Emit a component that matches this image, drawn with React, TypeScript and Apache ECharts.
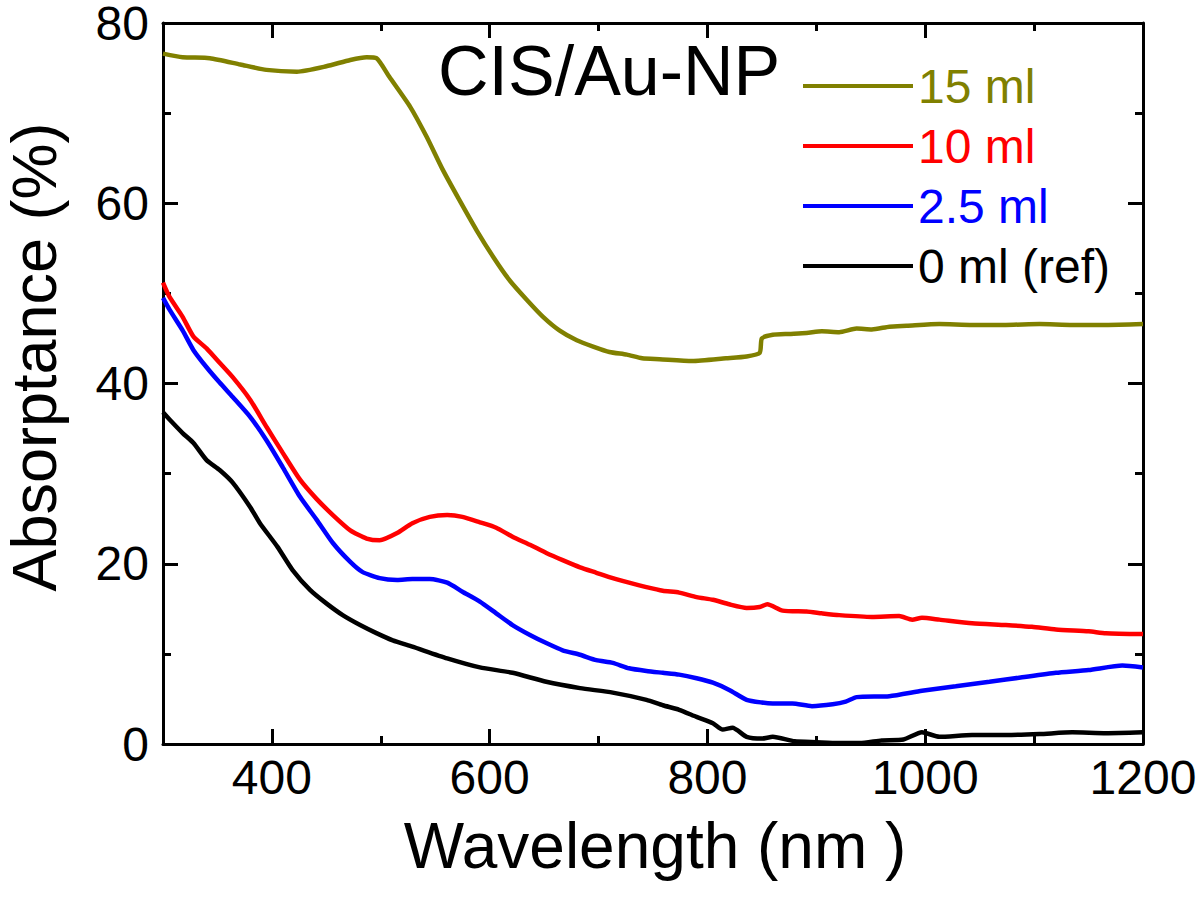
import React, { useEffect, useRef } from "react";
import * as echarts from "echarts";

// ---- data (wavelength in nm, absorptance in %) ----
const wl15 = [300, 318, 343, 371, 395, 423, 450, 472, 487, 496, 508, 527, 542, 557, 572, 588, 603, 618, 634, 649, 664, 680, 695, 710, 726, 740, 756, 786, 817, 836, 848, 850, 860, 875, 891, 905, 921, 937, 951, 967, 983, 1013, 1043, 1074, 1105, 1135, 1166, 1200];
const v15 = [76.6, 76.2, 76.1, 75.4, 74.8, 74.6, 75.2, 75.9, 76.2, 76.1, 74.0, 70.7, 67.4, 63.7, 60.4, 57.0, 54.1, 51.5, 49.3, 47.4, 45.9, 44.8, 44.1, 43.5, 43.2, 42.8, 42.7, 42.5, 42.8, 43.0, 43.4, 45.0, 45.4, 45.5, 45.6, 45.8, 45.7, 46.1, 46.0, 46.3, 46.4, 46.6, 46.5, 46.5, 46.6, 46.5, 46.5, 46.6];

const wl10 = [300, 306, 318, 328, 340, 352, 364, 380, 395, 410, 426, 441, 456, 472, 487, 499, 515, 529, 545, 561, 575, 591, 606, 621, 637, 652, 667, 683, 698, 713, 728, 744, 759, 774, 790, 805, 820, 836, 848, 855, 869, 891, 905, 921, 951, 976, 988, 997, 1013, 1043, 1074, 1098, 1120, 1150, 1166, 1200];
const v10 = [51.2, 49.6, 47.4, 45.2, 43.9, 42.3, 40.7, 38.2, 35.2, 32.3, 29.3, 27.2, 25.4, 23.7, 22.8, 22.6, 23.4, 24.5, 25.2, 25.4, 25.2, 24.6, 24.0, 23.0, 22.1, 21.2, 20.4, 19.6, 19.0, 18.4, 17.9, 17.4, 17.0, 16.8, 16.3, 16.0, 15.5, 15.1, 15.2, 15.5, 14.8, 14.7, 14.5, 14.3, 14.1, 14.2, 13.8, 14.0, 13.8, 13.4, 13.2, 13.0, 12.7, 12.5, 12.3, 12.2];

const wl25 = [300, 306, 318, 328, 340, 352, 364, 380, 395, 410, 426, 441, 456, 472, 483, 499, 515, 529, 545, 561, 575, 591, 606, 621, 637, 652, 667, 683, 698, 713, 728, 744, 759, 774, 790, 805, 820, 836, 850, 860, 878, 896, 915, 927, 937, 967, 997, 1028, 1059, 1089, 1120, 1150, 1181, 1200];
const v25 = [49.5, 48.2, 45.9, 43.7, 41.8, 40.1, 38.5, 36.3, 33.7, 30.7, 27.4, 24.9, 22.3, 20.2, 19.1, 18.4, 18.2, 18.3, 18.3, 17.9, 16.9, 15.8, 14.5, 13.2, 12.1, 11.2, 10.4, 9.9, 9.3, 9.0, 8.4, 8.1, 7.9, 7.7, 7.3, 6.8, 6.0, 4.9, 4.6, 4.5, 4.5, 4.2, 4.4, 4.7, 5.2, 5.3, 5.9, 6.4, 6.9, 7.4, 7.9, 8.2, 8.7, 8.5];

const wl0 = [300, 306, 318, 328, 340, 352, 364, 380, 389, 405, 419, 435, 450, 465, 481, 496, 511, 529, 561, 591, 621, 652, 683, 713, 744, 759, 774, 790, 805, 814, 823, 836, 850, 860, 880, 900, 920, 940, 960, 980, 997, 1013, 1043, 1074, 1105, 1135, 1166, 1200];
const v0 = [36.8, 36.0, 34.5, 33.4, 31.5, 30.4, 29.0, 26.3, 24.5, 21.9, 19.3, 17.1, 15.6, 14.3, 13.2, 12.3, 11.5, 10.8, 9.5, 8.5, 7.9, 6.9, 6.2, 5.7, 4.9, 4.3, 3.8, 3.0, 2.3, 1.6, 1.8, 0.8, 0.6, 0.8, 0.3, 0.2, 0.1, 0.1, 0.4, 0.5, 1.3, 0.8, 1.0, 1.0, 1.1, 1.3, 1.2, 1.3];

const seriesNames = ["15 ml", "10 ml", "2.5 ml", "0 ml (ref)"];
const seriesColors = ["#808000", "#ff0000", "#0000ff", "#000000"];
const xMajorTicks = [400, 600, 800, 1000, 1200];
const xMinorTicks = [500, 700, 900, 1100];

const FONT = "'Liberation Sans', Arial, Helvetica, sans-serif";

const zip = (xs: number[], ys: number[]) => xs.map((x, i) => [x, ys[i]]);

export default function App() {
  const ref = useRef<HTMLDivElement>(null);

  useEffect(() => {
    if (!ref.current) return;
    const chart = echarts.init(ref.current, undefined, { renderer: "svg" });

    const lineStyle = { color: "#000", width: 3 };
    const xBase = {
      type: "value" as const,
      min: 300,
      max: 1200,
      interval: 100,
      splitLine: { show: false },
    };
    const yBase = {
      type: "value" as const,
      min: 0,
      max: 80,
      interval: 20,
      splitLine: { show: false },
    };

    const data = [zip(wl15, v15), zip(wl10, v10), zip(wl25, v25), zip(wl0, v0)];

    chart.setOption({
      animation: false,
      backgroundColor: "#fff",
      textStyle: { fontFamily: FONT },
      grid: { left: 163, right: 57, top: 23, bottom: 166, containLabel: false, outerBoundsMode: "none" },
      title: {
        text: "CIS/Au-NP",
        left: 438,
        top: 36,
        padding: 0,
        textStyle: { fontSize: 70, fontWeight: "normal", color: "#000", fontFamily: FONT },
      },
      legend: {
        orient: "vertical",
        left: 803,
        top: 62,
        padding: 0,
        itemWidth: 110,
        itemHeight: 4,
        itemGap: 12,
        icon: "rect",
        textStyle: { fontSize: 48, fontFamily: FONT },
        data: seriesNames.map((n, i) => ({ name: n, textStyle: { color: seriesColors[i] } })),
      },
      xAxis: [
        {
          ...xBase,
          position: "bottom",
          axisLine: { show: true, lineStyle },
          axisTick: { show: true, inside: true, length: 15, lineStyle, customValues: xMajorTicks },
          axisLabel: {
            show: true,
            customValues: xMajorTicks,
            formatter: (v: number) => String(v),
            fontSize: 48,
            color: "#000",
            margin: 9,
            fontFamily: FONT,
          },
        },
        {
          ...xBase,
          position: "bottom",
          axisLine: { show: false },
          axisTick: { show: true, inside: true, length: 8, lineStyle, customValues: xMinorTicks },
          axisLabel: { show: false },
        },
        {
          ...xBase,
          position: "top",
          axisLine: { show: true, lineStyle },
          axisTick: { show: true, inside: true, length: 15, lineStyle, customValues: xMajorTicks },
          axisLabel: { show: false },
        },
        {
          ...xBase,
          position: "top",
          axisLine: { show: false },
          axisTick: { show: true, inside: true, length: 8, lineStyle, customValues: xMinorTicks },
          axisLabel: { show: false },
        },
      ],
      yAxis: [
        {
          ...yBase,
          position: "left",
          axisLine: { show: true, lineStyle },
          axisTick: { show: true, inside: true, length: 15, lineStyle },
          minorTick: { show: true, splitNumber: 2, length: 8, lineStyle },
          axisLabel: {
            show: true,
            formatter: (v: number) => String(v),
            fontSize: 48,
            lineHeight: 38,
            padding: [4, 0, 0, 0],
            color: "#000",
            margin: 14,
            fontFamily: FONT,
          },
        },
        {
          ...yBase,
          position: "right",
          axisLine: { show: true, lineStyle },
          axisTick: { show: true, inside: true, length: 15, lineStyle },
          minorTick: { show: true, splitNumber: 2, length: 8, lineStyle },
          axisLabel: { show: false },
        },
      ],
      graphic: [
        {
          type: "text",
          x: 655,
          y: 846,
          style: {
            text: "Wavelength (nm )",
            fontSize: 64,
            fontFamily: FONT,
            fill: "#000",
            textAlign: "center",
            textVerticalAlign: "middle",
          },
        },
        {
          type: "text",
          x: 34,
          y: 357,
          rotation: Math.PI / 2,
          style: {
            text: "Absorptance (%)",
            fontSize: 63,
            fontFamily: FONT,
            fill: "#000",
            textAlign: "center",
            textVerticalAlign: "middle",
          },
        },
      ],
      series: seriesNames.map((n, i) => ({
        name: n,
        type: "line",
        xAxisIndex: 0,
        yAxisIndex: 0,
        showSymbol: false,
        symbol: "none",
        smooth: 0.2,
        lineStyle: { color: seriesColors[i], width: 4.5 },
        itemStyle: { color: seriesColors[i] },
        data: data[i],
        z: 5 - i,
      })),
    });

    return () => chart.dispose();
  }, []);

  return (
    <div
      ref={ref}
      style={{ position: "fixed", left: 0, top: 0, width: 1200, height: 910 }}
    />
  );
}
